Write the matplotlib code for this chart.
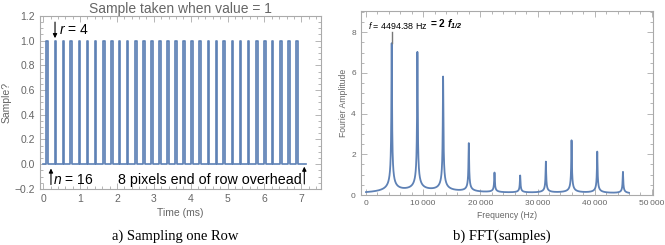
import numpy as np
import matplotlib
matplotlib.use("Agg")
import matplotlib.pyplot as plt
from matplotlib.ticker import MultipleLocator, FuncFormatter

plt.rcParams['font.family'] = ['Liberation Sans', 'DejaVu Sans']
plt.rcParams['mathtext.fontset'] = 'custom'
plt.rcParams['mathtext.rm'] = 'Liberation Sans'
plt.rcParams['mathtext.it'] = 'Liberation Sans:italic'
plt.rcParams['mathtext.bf'] = 'Liberation Sans:bold:italic'

# ---- data: left panel (sample pulse times in ms) ----
sample_times = [0.11, 0.33, 0.55, 0.76, 0.98, 1.20, 1.42, 1.64, 1.86, 2.07,
                2.29, 2.51, 2.73, 2.95, 3.17, 3.38, 3.60, 3.82, 4.04, 4.26,
                4.48, 4.70, 4.91, 5.13, 5.35, 5.57, 5.79, 6.01, 6.22, 6.44,
                6.66, 6.88]
sample_value = 1.0
row_end = 7.12

# ---- data: right panel (FFT peaks) ----
peak_freqs = [4494, 8989, 13483, 17978, 22472, 26966, 31461, 35955, 40449, 44944]
peak_heights = [7.34, 6.88, 5.68, 2.41, 0.98, 0.85, 1.54, 2.60, 2.05, 1.07]
freq_max = 50000

blue = '#5E81B5'
frame_c = '#aaaaaa'
tick_c = '#666666'

fig = plt.figure(figsize=(6.65, 2.45), dpi=100)
axL = fig.add_axes([0.060, 0.229, 0.422, 0.706])
axR = fig.add_axes([0.5424, 0.204, 0.4391, 0.751])

def style(ax, fs):
    for s in ax.spines.values():
        s.set_color(frame_c)
        s.set_linewidth(0.8)
    ax.tick_params(which='both', direction='in', top=True, right=True,
                   color=frame_c, labelcolor=tick_c, labelsize=fs, width=0.6)
    ax.tick_params(which='major', length=4)
    ax.tick_params(which='minor', length=2)

# ---- left panel ----
pw = 0.045
xs = [0.0]
ys = [0.0]
for t in sample_times:
    xs += [t - pw / 2, t - pw / 2, t + pw / 2, t + pw / 2]
    ys += [0, sample_value, sample_value, 0]
xs.append(row_end)
ys.append(0)
axL.fill_between(xs, ys, 0, color=blue, alpha=0.35, lw=0)
axL.plot(xs, ys, color=blue, lw=1.2)
axL.set_xlim(-0.09, 7.52)
axL.set_ylim(-0.2, 1.2)
axL.xaxis.set_major_locator(MultipleLocator(1))
axL.xaxis.set_minor_locator(MultipleLocator(0.2))
axL.yaxis.set_major_locator(MultipleLocator(0.2))
axL.yaxis.set_minor_locator(MultipleLocator(0.05))
axL.yaxis.set_major_formatter(FuncFormatter(lambda v, p: f"{v:.1f}".replace('-', '\u2212')))
style(axL, 7.5)
axL.set_title("Sample taken when value = 1", fontsize=10, color=tick_c, pad=2)
axL.set_ylabel("Sample?", fontsize=7.5, color=tick_c, labelpad=2)
axL.set_xlabel("Time (ms)", fontsize=7.5, color=tick_c, labelpad=3)

arrow = dict(arrowstyle='-|>', color='black', lw=0.8, mutation_scale=6,
             shrinkA=0, shrinkB=0)
axL.annotate("", xy=(0.32, 1.02), xytext=(0.32, 1.15), arrowprops=arrow)
axL.text(0.42, 1.085, r"$\mathit{r}$ = 4", fontsize=10, va='center', ha='left')
axL.annotate("", xy=(0.21, -0.035), xytext=(0.21, -0.165), arrowprops=arrow)
axL.text(0.26, -0.125, r"$\mathit{n}$ = 16", fontsize=10, va='center', ha='left')
axL.annotate("", xy=(7.08, -0.02), xytext=(7.08, -0.16), arrowprops=arrow)
axL.text(7.0, -0.125, "8 pixels end of row overhead", fontsize=10.3,
         va='center', ha='right')

# ---- right panel ----
f = np.linspace(0, freq_max * 0.92, 6000)
w = 45.0
amp = np.zeros_like(f)
for f0, h in zip(peak_freqs, peak_heights):
    amp += h * w / np.sqrt(w ** 2 + (f - f0) ** 2)
axR.plot(f, amp, color=blue, lw=1.3)
axR.set_xlim(-930, 50150)
axR.set_ylim(0, 9.04)
axR.xaxis.set_major_locator(MultipleLocator(10000))
axR.xaxis.set_minor_locator(MultipleLocator(2000))
axR.yaxis.set_major_locator(MultipleLocator(2))
axR.yaxis.set_minor_locator(MultipleLocator(0.5))
axR.xaxis.set_major_formatter(FuncFormatter(
    lambda v, p: "0" if v == 0 else f"{int(v):,}".replace(',', '\u2009')))
style(axR, 6)
axR.set_ylabel("Fourier Amplitude", fontsize=6.2, color=tick_c, labelpad=2)
axR.set_xlabel("Frequency (Hz)", fontsize=6.2, color=tick_c, labelpad=3)
axR.plot([peak_freqs[0], peak_freqs[0]], [7.48, 8.0], color='#777777', lw=1.0)
axR.text(300, 8.35, r"$\mathit{f}$ = 4494.38 Hz", fontsize=6.4, va='center', ha='left')
axR.text(11200, 8.4, r"= 2 $\mathbf{f}_{\mathbf{1/2}}$", fontsize=7.3,
         fontweight='bold', va='center', ha='left')

# ---- captions ----
fig.text(175 / 665, 1 - 236 / 245, "a) Sampling one Row", fontsize=10.5,
         family='Liberation Serif', ha='center', va='center')
fig.text(502 / 665, 1 - 236 / 245, "b) FFT(samples)", fontsize=10.5,
         family='Liberation Serif', ha='center', va='center')

fig.savefig("out.png", dpi=100)
